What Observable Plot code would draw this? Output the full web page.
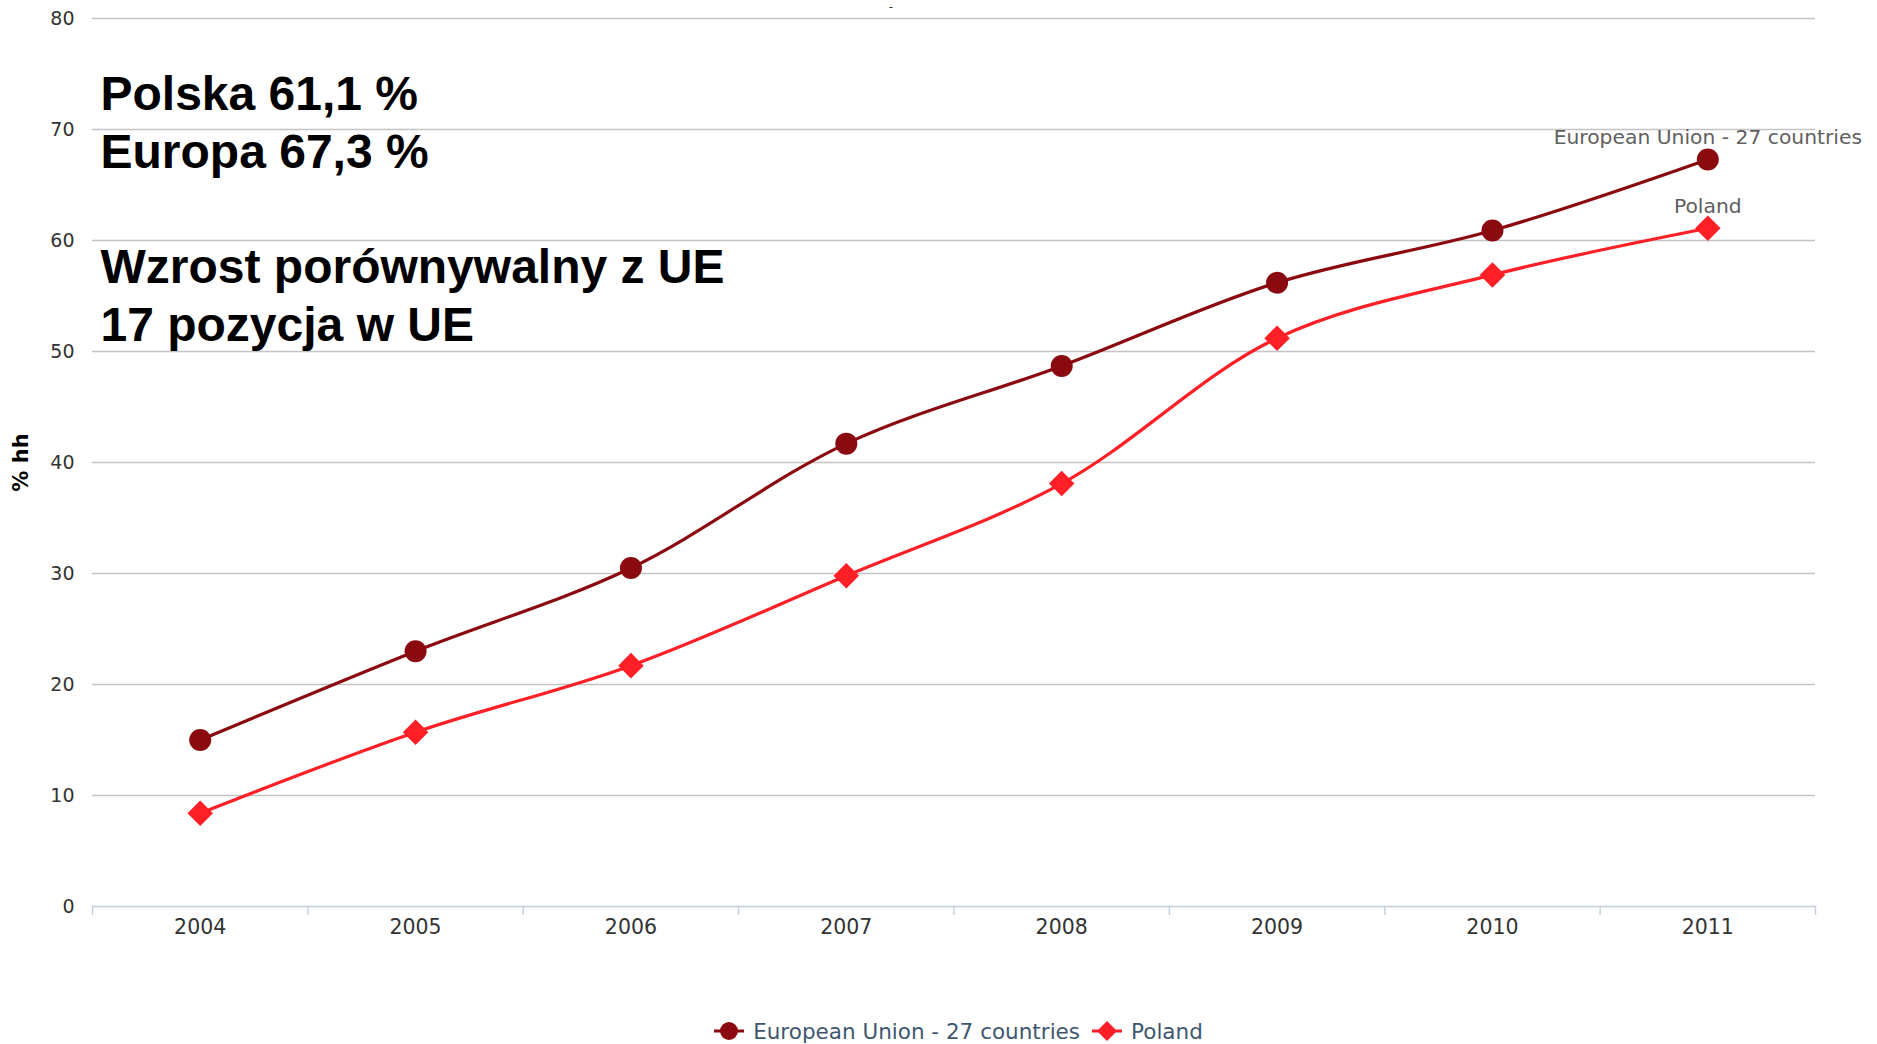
<!DOCTYPE html>
<html>
<head>
<meta charset="utf-8">
<script src="https://cdn.jsdelivr.net/npm/d3@7"></script>
<script src="https://cdn.jsdelivr.net/npm/@observablehq/plot@0.6"></script>
<style>
  html, body { margin: 0; padding: 0; background: #fff; }
  body { width: 1877px; height: 1044px; position: relative; overflow: hidden; font-family: "DejaVu Sans", sans-serif; }
  g[aria-label="notes"] text { filter: drop-shadow(2px 2px 1.5px rgba(0,0,0,0.45)); }
  #legend { position: absolute; left: 0; top: 1017px; width: 1877px; height: 28px; display: flex; justify-content: center; align-items: center; font-family: "DejaVu Sans", sans-serif; font-size: 21.5px; color: #3E576F; transform: translateX(20px); }
  #legend .item { display: flex; align-items: center; margin: 0 6px; }
  #legend svg { margin-right: 9px; }
</style>
</head>
<body>
<div id="chart"></div>
<div id="legend"></div>
<script>
const years = [2004, 2005, 2006, 2007, 2008, 2009, 2010, 2011];
const euValues = [15.0, 23.0, 30.5, 41.7, 48.7, 56.2, 60.9, 67.3];
const plValues = [8.4, 15.7, 21.7, 29.8, 38.1, 51.2, 56.9, 61.1];
const yTicks = [0, 10, 20, 30, 40, 50, 60, 70, 80];
const seriesNames = ["European Union - 27 countries", "Poland"];
const seriesColors = ["#8B0A0F", "#FF1F26"];
const seriesSymbols = ["circle", "diamond2"];
const notes = ["Polska 61,1 %", "Europa 67,3 %", "", "Wzrost porównywalny z UE", "17 pozycja w UE"];
const yLabel = "% hh";
const topTitle = "-";

const data = [
  ...years.map((year, i) => ({year, value: euValues[i], series: seriesNames[0]})),
  ...years.map((year, i) => ({year, value: plValues[i], series: seriesNames[1]}))
];
const eu = data.filter(d => d.series === seriesNames[0]);
const pl = data.filter(d => d.series === seriesNames[1]);
const lastYear = years[years.length - 1];
const boundaries = d3.range(years[0] - 0.5, lastYear + 1, 1);

const chart = Plot.plot({
  width: 1877,
  height: 1000,
  marginTop: 18,
  marginLeft: 92,
  marginRight: 62,
  marginBottom: 94,
  style: {fontFamily: "DejaVu Sans, sans-serif", background: "#fff"},
  x: {type: "linear", domain: [years[0] - 0.5, lastYear + 0.5]},
  y: {domain: [0, 80]},
  marks: [
    Plot.gridY(yTicks.filter(d => d > 0), {stroke: "#c4c4c4", strokeOpacity: 1, strokeWidth: 1.4}),
    Plot.ruleY([0], {stroke: "#C0D0E0", strokeWidth: 1.6}),
    Plot.axisX({ticks: boundaries, tickSize: 9, tickFormat: () => "", stroke: "#C0D0E0", strokeWidth: 1.4, label: null}),
    Plot.axisX({ticks: years, tickSize: 0, tickPadding: 13, tickFormat: d => String(d), fontSize: 20.5, fill: "#333", label: null}),
    Plot.axisY({ticks: yTicks, tickSize: 0, tickPadding: 18, fontSize: 19, fill: "#333", label: null}),
    Plot.text([yLabel], {frameAnchor: "left", dx: -71, rotate: -90, textAnchor: "middle", fontWeight: "bold", fontSize: 21, fill: "#000"}),
    Plot.text([topTitle], {frameAnchor: "top", lineAnchor: "middle", dx: -63, dy: -11, fontSize: 12, fill: "#333"}),
    Plot.line(eu, {x: "year", y: "value", stroke: seriesColors[0], strokeWidth: 3.2, curve: "catmull-rom"}),
    Plot.line(pl, {x: "year", y: "value", stroke: seriesColors[1], strokeWidth: 3.2, curve: "catmull-rom"}),
    Plot.dot(eu, {x: "year", y: "value", fill: seriesColors[0], r: 11, symbol: seriesSymbols[0]}),
    Plot.dot(pl, {x: "year", y: "value", fill: seriesColors[1], r: 11.5, symbol: seriesSymbols[1]}),
    Plot.text(data.filter(d => d.year === lastYear), {x: "year", y: "value", text: "series", dy: -22, fontSize: 20.3, fill: "#606060"}),
    Plot.text([notes.join("\n")], {frameAnchor: "top-left", dx: 8, dy: 51, lineHeight: 1.2, fontSize: 48, fontWeight: "bold", fontFamily: "Liberation Sans, Arial, sans-serif", fill: "#000", ariaLabel: "notes"})
  ]
});
document.getElementById("chart").appendChild(chart);

const legend = document.getElementById("legend");
seriesNames.forEach((name, i) => {
  const item = document.createElement("div");
  item.className = "item";
  const shape = seriesSymbols[i] === "circle"
    ? `<circle cx="15" cy="14" r="9" fill="${seriesColors[i]}"/>`
    : `<path d="M15 4 L25 14 L15 24 L5 14 Z" fill="${seriesColors[i]}"/>`;
  item.innerHTML = `<svg width="30" height="28"><line x1="0" x2="30" y1="14" y2="14" stroke="${seriesColors[i]}" stroke-width="3"/>${shape}</svg><span>${name}</span>`;
  legend.appendChild(item);
});
</script>
</body>
</html>
